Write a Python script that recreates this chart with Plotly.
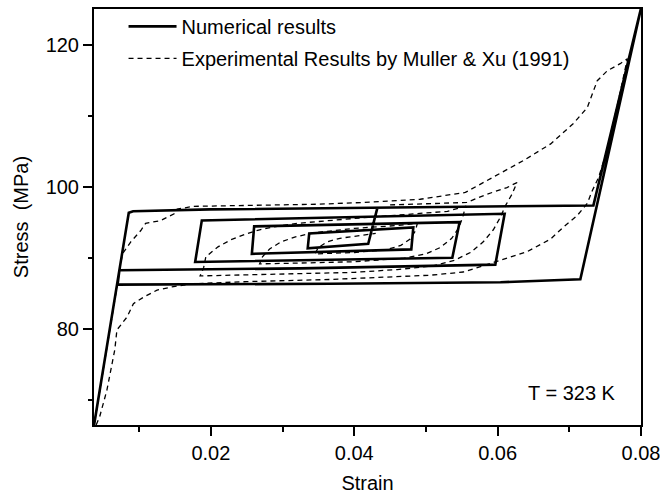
import plotly.graph_objects as go

# Numerical results (solid line)
num_strain = [0.00371, 0.00855, 0.00916, 0.0199, 0.07336, 0.0800, 0.07154, 0.0604, 0.0367,
              0.00699, 0.00724, 0.0325, 0.05968, 0.06098, 0.01874, 0.01781, 0.05368, 0.05470,
              0.02604, 0.02572, 0.04796, 0.04824, 0.03372, 0.03351, 0.04195, 0.04321]
num_stress = [66.5, 96.4, 96.61, 96.87, 97.43, 125.2, 87.03, 86.61, 86.39,
              86.28, 88.29, 88.57, 89.09, 96.26, 95.32, 89.46, 90.05, 95.08,
              94.48, 90.61, 91.24, 94.34, 93.49, 91.38, 92.02, 97.01]

# Experimental results (dashed line) - outer loop
exp_outer_strain = [0.0038, 0.0050, 0.0065, 0.0072, 0.00766, 0.00883, 0.01023, 0.0109, 0.0130,
                    0.01488, 0.0153, 0.0175, 0.025, 0.035, 0.0413, 0.0492, 0.0555, 0.0590,
                    0.0636, 0.0674, 0.0706, 0.0725, 0.0734, 0.0739, 0.0753, 0.0771, 0.0781,
                    0.0768, 0.0752, 0.0741, 0.0732, 0.0725, 0.0711, 0.0692, 0.0674, 0.0655,
                    0.0641, 0.0604, 0.0552, 0.0506, 0.0367, 0.0250, 0.0176, 0.0148, 0.0125,
                    0.0106, 0.0092, 0.0083, 0.0069, 0.0066, 0.0055, 0.0045, 0.0040]
exp_outer_stress = [67.0, 74.5, 83.8, 88.1, 90.6, 92.3, 93.9, 94.9, 95.3,
                    96.26, 96.9, 97.3, 97.45, 97.6, 97.85, 98.3, 99.26, 101.2,
                    103.75, 106.1, 109.0, 111.2, 113.6, 115.0, 116.4, 117.4, 118.1,
                    112.0, 105.0, 101.4, 99.5, 97.7, 96.0, 94.4, 92.7, 91.6,
                    90.9, 89.7, 88.05, 87.6, 87.0, 86.7, 86.4, 86.0, 85.5,
                    84.5, 83.6, 81.7, 79.9, 77.1, 71.4, 67.7, 66.5]

# Experimental results (dashed line) - internal loops
exp_inner_strain = [0.0450, 0.0557, 0.0585, 0.0613, 0.0627, 0.0620, 0.0611, 0.0604, 0.0594,
                    0.0580, 0.0562, 0.0540, 0.0510, 0.0460, 0.0400, 0.0300, 0.0220, 0.0185,
                    0.0190, 0.0193, 0.0210, 0.0228, 0.0249, 0.0268, 0.0287, 0.0320, 0.0400,
                    0.0480, 0.0530, 0.0555, 0.0552, 0.0546, 0.0536, 0.0520, 0.0500, 0.0470,
                    0.0400, 0.0320, 0.0268, 0.0272, 0.0282, 0.0298, 0.0318, 0.0345, 0.0400,
                    0.0460, 0.0488, 0.0485, 0.0478, 0.0465, 0.0445, 0.0400, 0.0345, 0.0350,
                    0.0362, 0.0380, 0.0410, 0.0430]
exp_inner_stress = [97.5, 97.85, 99.0, 99.95, 100.65, 99.0, 97.4, 95.8, 94.0,
                    92.3, 90.8, 89.7, 88.9, 88.4, 88.0, 87.8, 87.6, 87.5,
                    88.7, 90.2, 91.6, 92.6, 93.4, 94.0, 94.4, 94.9, 95.6,
                    96.2, 96.6, 97.3, 96.0, 94.3, 92.8, 91.5, 90.6, 90.0,
                    89.5, 89.3, 89.2, 90.2, 91.3, 92.3, 93.0, 93.6, 94.2,
                    94.6, 94.9, 93.8, 92.7, 91.8, 91.2, 90.8, 90.6, 91.5,
                    92.3, 92.8, 93.2, 93.5]

x_ticks = [0.02, 0.04, 0.06, 0.08]
y_ticks = [80, 100, 120]

FONT = "Liberation Sans, Arial, sans-serif"
FS = 20

fig = go.Figure()
fig.add_trace(go.Scatter(
    x=num_strain, y=num_stress, mode="lines", name="Numerical results",
    line=dict(color="black", width=2.6), legendgroup="a"))
fig.add_trace(go.Scatter(
    x=exp_outer_strain + [None] + exp_inner_strain,
    y=exp_outer_stress + [None] + exp_inner_stress,
    mode="lines", name="Experimental Results by Muller & Xu (1991)",
    line=dict(color="black", width=1.3, dash="5px,4px"), legendgroup="b",
    connectgaps=False))

axis_common = dict(
    showline=True, linecolor="black", linewidth=2, mirror=True,
    ticks="outside", ticklen=9, tickwidth=2, tickcolor="black",
    showgrid=False, zeroline=False, automargin=False,
    ticklabeloverflow="allow",
    tickfont=dict(family=FONT, size=FS, color="black"),
)

fig.update_xaxes(
    range=[0.0037, 0.08], tickvals=x_ticks, ticktext=["0.02", "0.04", "0.06", "0.08"],
    minor=dict(dtick=0.01, tick0=0, ticks="outside", ticklen=5, tickwidth=2, tickcolor="black"),
    title=dict(text="Strain", font=dict(family=FONT, size=FS, color="black"), standoff=16),
    **axis_common)
fig.update_yaxes(
    range=[66.5, 125.1], tickvals=y_ticks, ticktext=["80", "100", "120"],
    minor=dict(dtick=10, tick0=0, ticks="outside", ticklen=4, tickwidth=2, tickcolor="black"),
    title=dict(text="Stress\u00a0 (MPa)", font=dict(family=FONT, size=FS, color="black"), standoff=12),
    **axis_common)

fig.add_annotation(
    text="T = 323 K", xref="paper", yref="paper", x=0.874, y=0.0766,
    xanchor="center", yanchor="middle", showarrow=False,
    font=dict(family=FONT, size=FS, color="black"))

fig.update_layout(
    width=660, height=494,
    margin=dict(l=94, r=19, t=7, b=69),
    paper_bgcolor="white", plot_bgcolor="white",
    showlegend=True,
    legend=dict(
        x=0.054, y=1.005, xanchor="left", yanchor="top",
        bgcolor="rgba(0,0,0,0)", borderwidth=0,
        font=dict(family=FONT, size=FS, color="black"),
        itemwidth=48, tracegroupgap=3,
    ),
)

fig.write_html("out.html")
